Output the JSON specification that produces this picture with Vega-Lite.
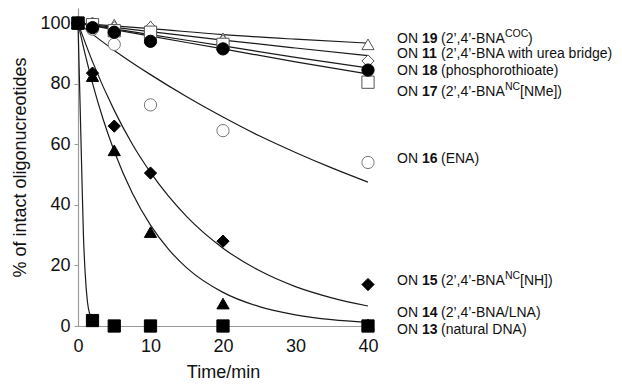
{
  "$schema": "https://vega.github.io/schema/vega-lite/v6.json",
  "autosize": {"type": "none"},
  "width": 290,
  "height": 318,
  "padding": {"left": 78, "top": 8, "right": 254, "bottom": 61},
  "background": "white",
  "config": {
    "view": {"stroke": null},
    "font": "Liberation Sans",
    "axis": {"grid": false, "labelFont": "Liberation Sans", "titleFont": "Liberation Sans", "labelColor": "#111", "titleColor": "#111", "titleFontWeight": "normal", "labelFlush": false, "labelOverlap": false}
  },
  "datasets": {
    "curves": [
      {"series": "ON19", "t": 0, "v": 100}, {"series": "ON19", "t": 10, "v": 98.2}, {"series": "ON19", "t": 20, "v": 96.2}, {"series": "ON19", "t": 30, "v": 94.7}, {"series": "ON19", "t": 40, "v": 93.4},
      {"series": "ON11", "t": 0, "v": 100}, {"series": "ON11", "t": 10, "v": 97.2}, {"series": "ON11", "t": 20, "v": 94.4}, {"series": "ON11", "t": 30, "v": 91.8}, {"series": "ON11", "t": 40, "v": 89.3},
      {"series": "ON18", "t": 0, "v": 100}, {"series": "ON18", "t": 10, "v": 96.2}, {"series": "ON18", "t": 20, "v": 92.5}, {"series": "ON18", "t": 30, "v": 88.7}, {"series": "ON18", "t": 40, "v": 85.2},
      {"series": "ON17", "t": 0, "v": 100}, {"series": "ON17", "t": 10, "v": 95.7}, {"series": "ON17", "t": 20, "v": 91.5}, {"series": "ON17", "t": 30, "v": 87.2}, {"series": "ON17", "t": 40, "v": 83.2},
      {"series": "ON16", "t": 0, "v": 100}, {"series": "ON16", "t": 5, "v": 91}, {"series": "ON16", "t": 10, "v": 83}, {"series": "ON16", "t": 15, "v": 75.7}, {"series": "ON16", "t": 20, "v": 69}, {"series": "ON16", "t": 25, "v": 62.8}, {"series": "ON16", "t": 30, "v": 57.3}, {"series": "ON16", "t": 35, "v": 52.2}, {"series": "ON16", "t": 40, "v": 47.5},
      {"series": "ON15", "t": 0, "v": 100}, {"series": "ON15", "t": 2, "v": 87.3}, {"series": "ON15", "t": 5, "v": 71.2}, {"series": "ON15", "t": 7.5, "v": 60}, {"series": "ON15", "t": 10, "v": 50.7}, {"series": "ON15", "t": 15, "v": 36.1}, {"series": "ON15", "t": 20, "v": 25.7}, {"series": "ON15", "t": 25, "v": 18.3}, {"series": "ON15", "t": 30, "v": 13}, {"series": "ON15", "t": 35, "v": 9.3}, {"series": "ON15", "t": 40, "v": 6.6},
      {"series": "ON14", "t": 0, "v": 100}, {"series": "ON14", "t": 1, "v": 89.6}, {"series": "ON14", "t": 2, "v": 80.2}, {"series": "ON14", "t": 3.5, "v": 68}, {"series": "ON14", "t": 5, "v": 57.7}, {"series": "ON14", "t": 7.5, "v": 43.8}, {"series": "ON14", "t": 10, "v": 33.3}, {"series": "ON14", "t": 12.5, "v": 25.3}, {"series": "ON14", "t": 15, "v": 19.2}, {"series": "ON14", "t": 20, "v": 11.1}, {"series": "ON14", "t": 25, "v": 6.4}, {"series": "ON14", "t": 30, "v": 3.7}, {"series": "ON14", "t": 35, "v": 2.1}, {"series": "ON14", "t": 40, "v": 1.2},
      {"series": "ON13", "t": 0, "v": 100}, {"series": "ON13", "t": 0.3, "v": 72}, {"series": "ON13", "t": 0.55, "v": 48}, {"series": "ON13", "t": 0.75, "v": 30}, {"series": "ON13", "t": 1, "v": 17}, {"series": "ON13", "t": 1.3, "v": 8}, {"series": "ON13", "t": 1.65, "v": 3.6}, {"series": "ON13", "t": 2, "v": 2}
    ],
    "points": [
      {"series": "ON19", "t": 0, "v": 100}, {"series": "ON19", "t": 2, "v": 100}, {"series": "ON19", "t": 5, "v": 99.5}, {"series": "ON19", "t": 10, "v": 99}, {"series": "ON19", "t": 20, "v": 95}, {"series": "ON19", "t": 40, "v": 93},
      {"series": "ON11", "t": 0, "v": 100}, {"series": "ON11", "t": 2, "v": 100}, {"series": "ON11", "t": 5, "v": 98.5}, {"series": "ON11", "t": 10, "v": 98.5}, {"series": "ON11", "t": 20, "v": 94}, {"series": "ON11", "t": 40, "v": 87.5},
      {"series": "ON17", "t": 0, "v": 100}, {"series": "ON17", "t": 2, "v": 99.5}, {"series": "ON17", "t": 5, "v": 97.5}, {"series": "ON17", "t": 10, "v": 97}, {"series": "ON17", "t": 20, "v": 93}, {"series": "ON17", "t": 40, "v": 80.5},
      {"series": "ON16", "t": 0, "v": 100}, {"series": "ON16", "t": 2, "v": 98}, {"series": "ON16", "t": 5, "v": 93}, {"series": "ON16", "t": 10, "v": 73}, {"series": "ON16", "t": 20, "v": 64.5}, {"series": "ON16", "t": 40, "v": 54},
      {"series": "ON18", "t": 0, "v": 100}, {"series": "ON18", "t": 2, "v": 98.5}, {"series": "ON18", "t": 5, "v": 97}, {"series": "ON18", "t": 10, "v": 94}, {"series": "ON18", "t": 20, "v": 91.5}, {"series": "ON18", "t": 40, "v": 84.5},
      {"series": "ON15", "t": 0, "v": 100}, {"series": "ON15", "t": 2, "v": 83.5}, {"series": "ON15", "t": 5, "v": 66}, {"series": "ON15", "t": 10, "v": 50.5}, {"series": "ON15", "t": 20, "v": 28}, {"series": "ON15", "t": 40, "v": 13.7},
      {"series": "ON14", "t": 0, "v": 100}, {"series": "ON14", "t": 2, "v": 82.5}, {"series": "ON14", "t": 5, "v": 58}, {"series": "ON14", "t": 10, "v": 31}, {"series": "ON14", "t": 20, "v": 7.4}, {"series": "ON14", "t": 40, "v": 0.5},
      {"series": "ON13", "t": 0, "v": 100}, {"series": "ON13", "t": 2, "v": 1.8}, {"series": "ON13", "t": 5, "v": 0}, {"series": "ON13", "t": 10, "v": 0}, {"series": "ON13", "t": 20, "v": 0}, {"series": "ON13", "t": 40, "v": 0}
    ],
    "labels": [
      {"num": "19", "desc": "(2’,4’-BNA", "sup": "COC", "tail": ")", "pos": 94.6},
      {"num": "11", "desc": "(2’,4’-BNA with urea bridge)", "sup": "", "tail": "", "pos": 89.7},
      {"num": "18", "desc": "(phosphorothioate)", "sup": "", "tail": "", "pos": 84.2},
      {"num": "17", "desc": "(2’,4’-BNA", "sup": "NC", "tail": "[NMe])", "pos": 77.4},
      {"num": "16", "desc": "(ENA)", "sup": "", "tail": "", "pos": 55.3},
      {"num": "15", "desc": "(2’,4’-BNA", "sup": "NC", "tail": "[NH])", "pos": 15},
      {"num": "14", "desc": "(2’,4’-BNA/LNA)", "sup": "", "tail": "", "pos": 4.2},
      {"num": "13", "desc": "(natural DNA)", "sup": "", "tail": "", "pos": -1.3}
    ]
  },
  "layer": [
    {
      "data": {"name": "curves"},
      "mark": {"type": "line", "interpolate": "monotone", "color": "#1a1a1a", "strokeWidth": 1.2},
      "encoding": {
        "x": {"field": "t", "type": "quantitative", "scale": {"domain": [0, 40], "nice": false, "zero": false},
          "axis": {"values": [0, 10, 20, 30, 40], "title": "Time/min", "titleFontSize": 18, "titleFontWeight": "normal", "labelFontSize": 18, "labelFlush": false, "domainColor": "#9a9a9a", "domainWidth": 1.2, "ticks": false, "labelPadding": 11, "titlePadding": 8}},
        "y": {"field": "v", "type": "quantitative", "scale": {"domain": [0, 105], "nice": false},
          "axis": {"values": [0, 5, 10, 15, 20, 25, 30, 35, 40, 45, 50, 55, 60, 65, 70, 75, 80, 85, 90, 95, 100],
            "labelExpr": "datum.value % 20 === 0 ? datum.label : ''",
            "title": "% of intact oligonucreotides", "titleFontSize": 18, "titleFontWeight": "normal", "labelFontSize": 18,
            "domainColor": "#9a9a9a", "domainWidth": 1.2, "tickColor": "#9a9a9a",
            "tickSize": {"condition": {"test": "datum.value % 20 === 0", "value": 4}, "value": -3},
            "labelPadding": 4, "titlePadding": 10}},
        "detail": {"field": "series"}
      }
    },
    {
      "data": {"name": "points"},
      "mark": {"type": "point", "size": 150, "strokeWidth": 1, "opacity": 1},
      "encoding": {
        "x": {"field": "t", "type": "quantitative"},
        "y": {"field": "v", "type": "quantitative"},
        "shape": {"field": "series", "type": "nominal", "legend": null,
          "scale": {"domain": ["ON19", "ON11", "ON17", "ON16", "ON18", "ON15", "ON14", "ON13"],
            "range": ["triangle-up", "diamond", "square", "circle", "circle", "diamond", "triangle-up", "square"]}},
        "fill": {"field": "series", "type": "nominal", "legend": null,
          "scale": {"domain": ["ON19", "ON11", "ON17", "ON16", "ON18", "ON15", "ON14", "ON13"],
            "range": ["white", "white", "white", "white", "black", "black", "black", "black"]}},
        "stroke": {"field": "series", "type": "nominal", "legend": null,
          "scale": {"domain": ["ON19", "ON11", "ON17", "ON16", "ON18", "ON15", "ON14", "ON13"],
            "range": ["#555", "#555", "#555", "#777", "black", "black", "black", "black"]}}
      }
    },
    {
      "data": {"name": "labels"},
      "mark": {"type": "text", "align": "left", "baseline": "middle", "fontSize": 14, "dx": 29, "color": "#111"},
      "encoding": {"x": {"datum": 40, "type": "quantitative"}, "y": {"field": "pos", "type": "quantitative"}, "text": {"value": "ON"}}
    },
    {
      "data": {"name": "labels"},
      "mark": {"type": "text", "align": "left", "baseline": "middle", "fontSize": 14, "fontWeight": "bold", "dx": 54, "color": "#111"},
      "encoding": {"x": {"datum": 40, "type": "quantitative"}, "y": {"field": "pos", "type": "quantitative"}, "text": {"field": "num"}}
    },
    {
      "data": {"name": "labels"},
      "mark": {"type": "text", "align": "left", "baseline": "middle", "fontSize": 14, "dx": 73, "color": "#111"},
      "encoding": {"x": {"datum": 40, "type": "quantitative"}, "y": {"field": "pos", "type": "quantitative"}, "text": {"field": "desc"}}
    },
    {
      "data": {"name": "labels"},
      "transform": [{"filter": "datum.sup !== ''"}],
      "mark": {"type": "text", "align": "left", "baseline": "middle", "fontSize": 10.5, "dx": 137, "dy": -5, "color": "#111"},
      "encoding": {"x": {"datum": 40, "type": "quantitative"}, "y": {"field": "pos", "type": "quantitative"}, "text": {"field": "sup"}}
    },
    {
      "data": {"name": "labels"},
      "transform": [{"filter": "datum.sup === 'COC'"}],
      "mark": {"type": "text", "align": "left", "baseline": "middle", "fontSize": 14, "dx": 160, "color": "#111"},
      "encoding": {"x": {"datum": 40, "type": "quantitative"}, "y": {"field": "pos", "type": "quantitative"}, "text": {"field": "tail"}}
    },
    {
      "data": {"name": "labels"},
      "transform": [{"filter": "datum.sup === 'NC'"}],
      "mark": {"type": "text", "align": "left", "baseline": "middle", "fontSize": 14, "dx": 152, "color": "#111"},
      "encoding": {"x": {"datum": 40, "type": "quantitative"}, "y": {"field": "pos", "type": "quantitative"}, "text": {"field": "tail"}}
    }
  ]
}
